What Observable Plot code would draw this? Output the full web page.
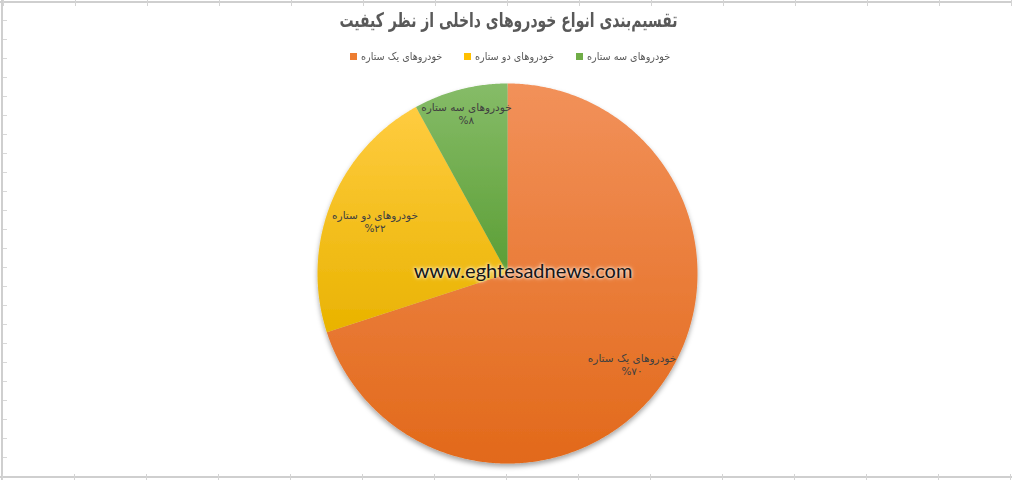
<!DOCTYPE html>
<html>
<head>
<meta charset="utf-8">
<script src="https://cdn.jsdelivr.net/npm/d3@7"></script>
<script src="https://cdn.jsdelivr.net/npm/@observablehq/plot@0.6"></script>
<style>
  body { margin: 0; background: #fff; }
  #wrap { position: relative; width: 1012px; height: 480px; overflow: hidden; font-family: "DejaVu Sans", sans-serif; background: #fff; }
  #wrap svg { position: absolute; left: 0; top: 0; }
  #title { position: absolute; top: 8px; left: 0; width: 1016px; text-align: center; z-index: 2; }
  #title span { display: inline-block; font-weight: bold; font-size: 20px; color: #595959; direction: rtl; transform: scaleX(0.70); transform-origin: center; }
  #legend { position: absolute; top: 50px; left: 0; width: 1020px; display: flex; justify-content: center; gap: 22px; direction: ltr; z-index: 2; }
  .item { display: flex; align-items: center; font-size: 10.5px; color: #595959; }
  .sq { width: 7px; height: 7px; margin-right: 4px; }
  .item span.t { direction: rtl; display: inline-block; transform: scaleX(0.92); transform-origin: left center; margin-right: -7px; }
  #wm { position: absolute; left: 523px; top: 258px; transform: translateX(-50%); font-family: Lato, "Open Sans", sans-serif; font-size: 20px; color: #151515; text-shadow: 0 0 3px #fff, 0 0 5px rgba(255,255,255,0.7); white-space: nowrap; z-index: 3; }
  .bt { position: absolute; background: #cfcfcf; z-index: 1; }
  .tk { position: absolute; z-index: 1; background: repeating-linear-gradient(to right, #d4d4d4 0 1px, transparent 1px 72px); }
  .tkv { position: absolute; z-index: 1; background: repeating-linear-gradient(to bottom, #d8d8d8 0 1px, transparent 1px 19px); }
</style>
</head>
<body>
<div id="wrap">
  <div class="bt" style="left:0;top:1px;width:1012px;height:2px"></div>
  <div class="bt" style="left:1px;top:0;width:2px;height:480px"></div>
  <div class="bt" style="left:0;top:476px;width:1012px;height:2px"></div>
  <div class="tk" style="left:3px;top:0;width:1009px;height:6px"></div>
  <div class="tk" style="left:2px;top:474px;width:1010px;height:6px"></div>
  <div class="tkv" style="left:3px;top:20px;width:4px;height:450px"></div>
  <div id="title"><span></span></div>
  <div id="legend"></div>
  <div id="wm"></div>
</div>
<script>
// ---- data ----
const title = "تقسیم‌بندی انواع خودروهای داخلی از نظر کیفیت";
const categories = ["خودروهای یک ستاره", "خودروهای دو ستاره", "خودروهای سه ستاره"];
const shares = [70, 22, 8];
const watermark = "www.eghtesadnews.com";

// ---- style ----
const legendColors = ["#ED7D31", "#FFC000", "#70AD47"];
const gradTop = ["#F2915A", "#FFCC40", "#86BC68"];
const gradBottom = ["#E2691A", "#E9B300", "#5B9E35"];
const labelRadius = [0.81, 0.75, 0.87];
const cx = 507, cy = 273, R = 190;

const fa = n => String(n).replace(/\d/g, d => "۰۱۲۳۴۵۶۷۸۹"[d]);

document.querySelector("#title span").textContent = title;
document.getElementById("wm").textContent = watermark;
const legend = document.getElementById("legend");
categories.forEach((c, i) => {
  const it = document.createElement("div");
  it.className = "item";
  it.innerHTML = `<span class="sq" style="background:${legendColors[i]}"></span><span class="t"></span>`;
  it.querySelector(".t").textContent = c;
  legend.appendChild(it);
});

const table = categories.map((c, i) => ({category: c, share: shares[i], idx: i}));
const arcs = d3.pie().sort(null).value(d => d.share)(table);

// polygon points for each slice (unit circle, y up)
const slicePts = arcs.map(a => {
  const pts = [{x: 0, y: 0}];
  const n = Math.max(2, Math.ceil((a.endAngle - a.startAngle) / (Math.PI / 360)));
  for (let k = 0; k <= n; k++) {
    const t = a.startAngle + (a.endAngle - a.startAngle) * k / n;
    pts.push({x: Math.sin(t), y: Math.cos(t)});
  }
  return pts;
});

const labels = arcs.map((a, i) => {
  const m = (a.startAngle + a.endAngle) / 2;
  const r = labelRadius[i];
  return {x: r * Math.sin(m), y: r * Math.cos(m), text: a.data.category + "\n%" + fa(a.data.share)};
});

const chart = Plot.plot({
  width: 1012,
  height: 480,
  margin: 0,
  x: {domain: [-1, 1], range: [cx - R, cx + R], axis: null},
  y: {domain: [-1, 1], range: [cy + R, cy - R], axis: null},
  style: {background: "transparent", overflow: "visible"},
  marks: [
    ...slicePts.map((pts, i) => Plot.line(pts, {x: "x", y: "y", fill: `url(#g${i})`, stroke: "none", curve: "linear"})),
    Plot.text(labels, {x: "x", y: "y", text: "text", fontSize: 10.5, fill: "#404040", lineHeight: 1.25, fontFamily: "DejaVu Sans, sans-serif"})
  ]
});

const svg = d3.select(chart);
const defs = svg.insert("defs", ":first-child");
gradTop.forEach((c, i) => {
  const g = defs.append("linearGradient").attr("id", "g" + i).attr("x1", 0).attr("y1", 0).attr("x2", 0).attr("y2", 1);
  g.append("stop").attr("offset", "0%").attr("stop-color", c);
  g.append("stop").attr("offset", "100%").attr("stop-color", gradBottom[i]);
});
const f = defs.append("filter").attr("id", "shadow").attr("x", "-20%").attr("y", "-20%").attr("width", "140%").attr("height", "140%");
f.append("feDropShadow").attr("dx", 0).attr("dy", 3).attr("stdDeviation", 2.5).attr("flood-color", "#000").attr("flood-opacity", 0.35);

const pieGroup = svg.insert("g", "g").attr("filter", "url(#shadow)");
svg.selectAll('g[aria-label="line"]').each(function () { pieGroup.node().appendChild(this); });

document.getElementById("wrap").appendChild(chart);
</script>
</body>
</html>
